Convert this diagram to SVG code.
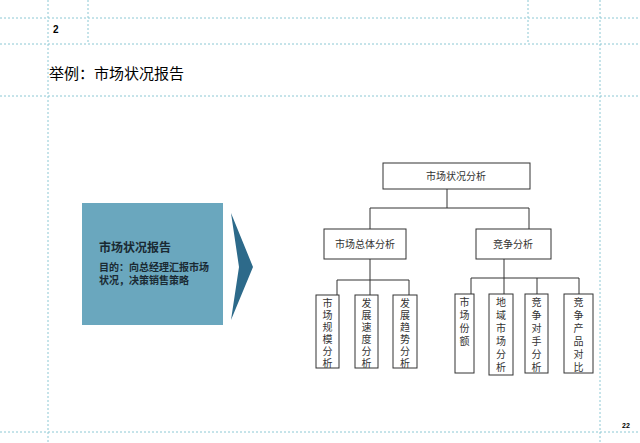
<svg xmlns="http://www.w3.org/2000/svg" width="640" height="443" viewBox="0 0 640 443">
<style>
.g{stroke:#8cc8d4;stroke-width:1;stroke-dasharray:2,2;fill:none}
.b{fill:#fff;stroke:#333;stroke-width:1}
.t{font-family:"Liberation Serif","Noto Sans CJK SC",serif;font-size:10px;fill:#333;text-anchor:middle}
.c{stroke:#333;stroke-width:1;fill:none}
</style>
<rect width="640" height="443" fill="#fff"/>
<g id="grid">
<line class="g" x1="0" y1="18" x2="640" y2="18"/>
<line class="g" x1="0" y1="44" x2="640" y2="44"/>
<line class="g" x1="0" y1="96" x2="640" y2="96"/>
<line class="g" x1="0" y1="432" x2="640" y2="432"/>
<line class="g" x1="48" y1="0" x2="48" y2="443"/>
<line class="g" x1="88" y1="0" x2="88" y2="44"/>
<line class="g" x1="528" y1="0" x2="528" y2="44"/>
<line class="g" x1="600" y1="0" x2="600" y2="443"/>
</g>
<text x="53" y="33" font-family="Liberation Sans,sans-serif" font-size="10" font-weight="bold" fill="#000">2</text>
<text x="49" y="79" font-family="Liberation Sans,'Noto Sans CJK SC',sans-serif" font-size="15" fill="#000">举例：市场状况报告</text>
<text x="626" y="428" font-family="Liberation Sans,sans-serif" font-size="7" font-weight="bold" fill="#000" text-anchor="middle">22</text>
<g id="summary">
<rect x="82" y="203" width="141" height="122" fill="#6aa7be"/>
<text x="99" y="252" font-family="'Liberation Serif','Noto Sans CJK SC',serif" font-size="12" font-weight="bold" fill="#1a2a33">市场状况报告</text>
<text x="99" y="271" font-family="'Liberation Serif','Noto Sans CJK SC',serif" font-size="10" font-weight="bold" fill="#1a2a33">目的：向总经理汇报市场</text>
<text x="99" y="284" font-family="'Liberation Serif','Noto Sans CJK SC',serif" font-size="10" font-weight="bold" fill="#1a2a33">状况，决策销售策略</text>
</g>
<g id="chevron"><polygon points="231,213 253,267 231,320 239,267" fill="#2d6a8a"/></g>
<g id="connectors">
<path class="c" d="M447,189V208M370,208H529M370,208V229M529,208V229"/>
<path class="c" d="M370,259V280M337,280H409M337,280V295M370,280V295M409,280V295"/>
<path class="c" d="M504,259V278M471,278H579M471,278V294M504,278V294M537,278V294M579,278V294"/>
</g>
<g id="root"><rect class="b" x="383" y="163" width="147" height="26"/><text class="t" x="456" y="180">市场状况分析</text></g>
<g id="n1"><rect class="b" x="324" y="229" width="82" height="30"/><text class="t" x="365" y="248">市场总体分析</text></g>
<g id="n2"><rect class="b" x="476" y="229" width="75" height="30"/><text class="t" x="513" y="248">竞争分析</text></g>
<g id="a1"><rect class="b" x="316" y="295" width="23" height="73"/><text class="t" x="327.5" y="307">市</text><text class="t" x="327.5" y="319">场</text><text class="t" x="327.5" y="331">规</text><text class="t" x="327.5" y="343">模</text><text class="t" x="327.5" y="355">分</text><text class="t" x="327.5" y="367">析</text></g>
<g id="a2"><rect class="b" x="355" y="295" width="23" height="73"/><text class="t" x="366.5" y="307">发</text><text class="t" x="366.5" y="319">展</text><text class="t" x="366.5" y="331">速</text><text class="t" x="366.5" y="343">度</text><text class="t" x="366.5" y="355">分</text><text class="t" x="366.5" y="367">析</text></g>
<g id="a3"><rect class="b" x="393" y="295" width="24" height="73"/><text class="t" x="405" y="307">发</text><text class="t" x="405" y="319">展</text><text class="t" x="405" y="331">趋</text><text class="t" x="405" y="343">势</text><text class="t" x="405" y="355">分</text><text class="t" x="405" y="367">析</text></g>
<g id="b1"><rect class="b" x="455" y="294" width="19" height="79"/><text class="t" x="464.5" y="306">市</text><text class="t" x="464.5" y="319">场</text><text class="t" x="464.5" y="332">份</text><text class="t" x="464.5" y="345">额</text></g>
<g id="b2"><rect class="b" x="489" y="294" width="24" height="81"/><text class="t" x="501" y="306">地</text><text class="t" x="501" y="319">域</text><text class="t" x="501" y="332">市</text><text class="t" x="501" y="345">场</text><text class="t" x="501" y="358">分</text><text class="t" x="501" y="371">析</text></g>
<g id="b3"><rect class="b" x="525" y="294" width="23" height="79"/><text class="t" x="536.5" y="306">竞</text><text class="t" x="536.5" y="319">争</text><text class="t" x="536.5" y="332">对</text><text class="t" x="536.5" y="345">手</text><text class="t" x="536.5" y="358">分</text><text class="t" x="536.5" y="371">析</text></g>
<g id="b4"><rect class="b" x="564" y="294" width="29" height="79"/><text class="t" x="578.5" y="306">竞</text><text class="t" x="578.5" y="319">争</text><text class="t" x="578.5" y="332">产</text><text class="t" x="578.5" y="345">品</text><text class="t" x="578.5" y="358">对</text><text class="t" x="578.5" y="371">比</text></g>
</svg>
